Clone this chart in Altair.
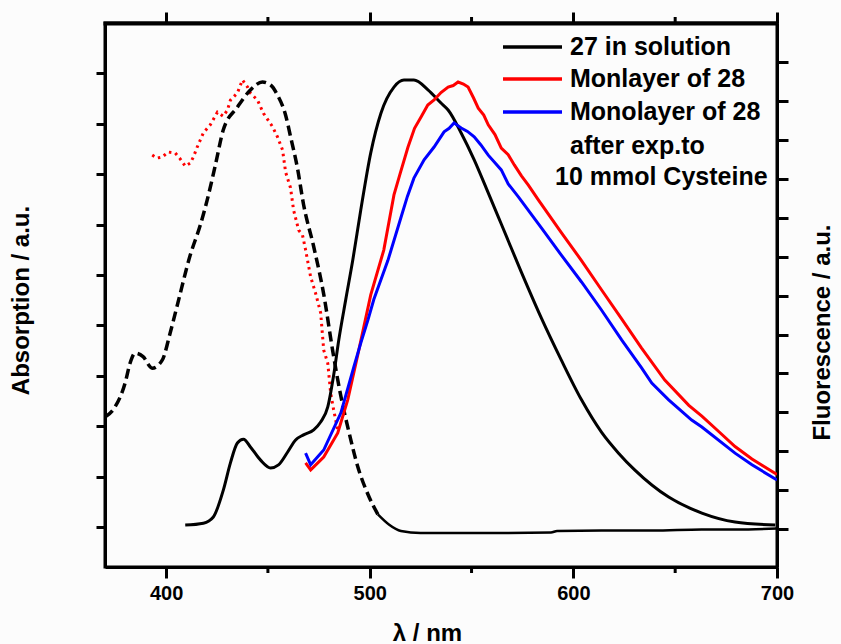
import altair as alt
import pandas as pd

# ---------------- data ----------------
x_major = [400, 500, 600, 700]
x_minor = [450, 550, 650]
abs_ticks = [0.0, 0.1, 0.2, 0.3, 0.4, 0.5, 0.6, 0.7, 0.8, 0.9]
fl_ticks = [0, 100, 200, 300, 400, 500, 600, 700, 800, 900, 1000, 1100, 1200]

# absorption of 27 in solution (dashed part)
abs27_nm = [370.0, 374.9, 379.9, 382.3, 384.8, 388.7, 393.2, 398.1, 402.0, 405.5,
            411.9, 416.8, 420.2, 424.2, 428.1, 435.0, 441.4, 447.3, 451.3, 454.7,
            458.7, 461.1, 464.6, 467.5, 472.5, 477.4, 481.8, 485.8, 489.7, 494.1,
            499.1, 504.0]
abs27_val = [0.218, 0.238, 0.286, 0.325, 0.345, 0.338, 0.315, 0.331, 0.385, 0.440,
             0.540, 0.599, 0.649, 0.718, 0.788, 0.833, 0.867, 0.883, 0.877, 0.857,
             0.817, 0.775, 0.710, 0.640, 0.556, 0.462, 0.350, 0.260, 0.190, 0.120,
             0.065, 0.025]
# absorption of 27, flat tail (solid)
abs27_tail_nm = [504.0, 509.4, 515.3, 525.0, 540.0, 565.0, 589.0, 592.0, 614.0, 639.0,
                 663.0, 680.0, 700.0]
abs27_tail_val = [0.025, 0.005, -0.008, -0.012, -0.012, -0.012, -0.011, -0.008, -0.007,
                  -0.007, -0.005, -0.005, -0.003]
# absorption of monolayer 28 (red dotted)
abs28_nm = [393.2, 395.5, 398.1, 401.0, 404.5, 407.0, 409.4, 411.9, 413.5, 415.3,
            418.3, 421.7, 425.2, 428.0, 430.1, 431.6, 435.0, 437.5, 440.0, 441.4,
            444.9, 447.8, 452.3, 454.7, 457.2, 458.7, 461.1, 462.6, 465.1, 467.0,
            468.5, 471.0, 473.4, 475.9, 477.4, 479.4, 480.8, 482.3, 484.3]
abs28_val = [0.738, 0.732, 0.734, 0.744, 0.742, 0.730, 0.716, 0.722, 0.735, 0.754,
             0.782, 0.798, 0.823, 0.815, 0.827, 0.847, 0.861, 0.887, 0.873, 0.861,
             0.847, 0.821, 0.794, 0.774, 0.748, 0.704, 0.673, 0.629, 0.589, 0.579,
             0.550, 0.496, 0.464, 0.425, 0.351, 0.325, 0.266, 0.232, 0.192]

# fluorescence: 27 in solution (black)
fl27_nm = [409.4, 418.3, 423.2, 428.1, 431.6, 435.0, 438.0, 441.4, 446.4, 451.3,
           455.2, 459.7, 463.6, 467.5, 472.5, 475.9, 479.4, 482.3, 484.8, 488.2,
           491.7, 495.6, 500.5, 505.5, 511.9, 516.8, 521.7, 528.6, 535.0, 538.5,
           544.9, 551.3, 558.2, 564.6, 574.4, 584.3, 594.1, 604.0, 613.8, 622.2,
           630.1, 646.8, 663.1, 679.4, 699.1]
fl27_val = [10, 15, 31, 100, 170, 221, 231, 211, 177, 157,
            165, 198, 229, 242, 255, 275, 314, 396, 486, 589,
            692, 820, 967, 1069, 1136, 1154, 1154, 1129, 1095, 1077,
            1018, 949, 864, 784, 661, 542, 434, 332, 249, 195,
            152, 82, 41, 18, 10]
# fluorescence: monolayer of 28 (red)
fl28_nm = [468.5, 471.0, 477.4, 484.3, 489.2, 494.1, 500.5, 506.9, 511.9, 515.0,
           518.8, 522.0, 525.2, 528.5, 531.6, 535.0, 538.5, 541.0, 543.4, 546.0,
           548.3, 551.0, 553.3, 556.0, 558.2, 561.5, 564.6, 568.0, 571.0, 574.5,
           577.9, 582.8, 594.1, 604.0, 613.8, 623.7, 633.5, 644.9, 656.7, 663.1,
           671.5, 679.4, 687.7, 700.0]
fl28_val = [170, 152, 185, 247, 332, 447, 602, 717, 859, 915,
            982, 1030, 1059, 1090, 1103, 1122, 1136, 1140, 1149, 1144,
            1136, 1108, 1082, 1064, 1039, 1014, 979, 962, 936, 908,
            884, 846, 762, 690, 615, 540, 465, 383, 318, 290,
            250, 212, 180, 140]
# fluorescence: monolayer of 28 after exposure to cysteine (blue)
fl28c_nm = [468.5, 471.0, 477.4, 485.8, 492.2, 495.6, 499.1, 502.0, 508.9, 515.3,
            518.5, 521.7, 526.7, 531.6, 536.5, 539.0, 541.4, 544.9, 548.0, 551.3,
            554.5, 558.2, 564.6, 568.0, 573.0, 584.3, 594.1, 604.0, 613.8, 623.7,
            633.5, 638.5, 646.8, 658.1, 663.1, 679.4, 687.7, 700.0]
fl28c_val = [195, 165, 203, 298, 417, 478, 537, 590, 690, 800,
             855, 902, 949, 982, 1021, 1030, 1044, 1031, 1022, 1008,
             988, 961, 923, 887, 854, 774, 704, 635, 563, 486,
             414, 375, 332, 280, 262, 195, 165, 126]

legend_labels = ["27 in solution", "Monlayer of 28", "Monolayer of 28"]
legend_colors = ["#000000", "#ff0000", "#0000ff"]
legend_extra = ["after exp.to", "10 mmol Cysteine"]

# ---------------- styling ----------------
FONT = "Liberation Sans"
W, H = 672, 544

x_scale = alt.Scale(domain=[370, 700], nice=False, zero=False)

common_axis = dict(domain=True, domainColor="black", domainWidth=3,
                   tickColor="black", tickWidth=3,
                   grid=False, labelFont=FONT, titleFont=FONT, titleColor="black",
                   titleFontWeight="bold", titleFontSize=24)

x_bottom = alt.X("nm:Q", scale=x_scale, axis=alt.Axis(
    orient="bottom", values=x_major, tickSize=11,
    labelFontSize=20, labelFontWeight="bold", labelColor="black", labelPadding=5,
    labelFlush=False, title="λ / nm", titleX=322, titleY=54, **common_axis))
x_top = alt.X("nm:Q", scale=x_scale, axis=alt.Axis(
    orient="top", values=x_major, labels=False, tickSize=11,
    title="", **common_axis))

y_abs = alt.Y("v:Q", scale=alt.Scale(domain=[-0.0794, 1.0], nice=False, zero=False),
              axis=alt.Axis(orient="left", values=abs_ticks, labels=False, tickSize=9,
                            title="Absorption / a.u.", titleX=-72, titleY=277,
                            titleAngle=270, titleBaseline="bottom", **common_axis))
y_fl = alt.Y("v:Q", scale=alt.Scale(domain=[-97.7, 1300.8], nice=False, zero=False),
             axis=alt.Axis(orient="right", values=fl_ticks, labels=False, tickSize=11,
                           title="Fluorescence  / a.u.", titleX=57, titleY=309,
                           titleAngle=270, titleBaseline="bottom", **common_axis))


def df(nm, val):
    return pd.DataFrame({"nm": nm, "v": val})


minor_df = pd.DataFrame({"nm": x_minor})

abs_group = alt.layer(
    alt.Chart(df(abs28_nm, abs28_val)).mark_line(
        color="#ff0000", strokeWidth=3, strokeDash=[2.5, 4], interpolate="linear", clip=True
    ).encode(x=x_bottom, y=y_abs),
    alt.Chart(df(abs27_nm, abs27_val)).mark_line(
        color="black", strokeWidth=3.5, strokeDash=[10, 5], interpolate="monotone", clip=True
    ).encode(x=x_bottom, y=y_abs),
    alt.Chart(df(abs27_tail_nm, abs27_tail_val)).mark_line(
        color="black", strokeWidth=2.5, interpolate="monotone", clip=True
    ).encode(x=x_bottom, y=y_abs),
    # minor ticks on the bottom edge
    alt.Chart(minor_df).mark_rule(color="black", strokeWidth=3).encode(
        x=x_bottom, y=alt.value(H), y2=alt.value(H + 6)),
)

fl_group = alt.layer(
    alt.Chart(df(fl27_nm, fl27_val)).mark_line(
        color="black", strokeWidth=3, interpolate="monotone", clip=True
    ).encode(x=x_top, y=y_fl),
    alt.Chart(df(fl28_nm, fl28_val)).mark_line(
        color="#ff0000", strokeWidth=3, interpolate="linear", clip=True
    ).encode(x=x_top, y=y_fl),
    alt.Chart(df(fl28c_nm, fl28c_val)).mark_line(
        color="#0000ff", strokeWidth=3, interpolate="linear", clip=True
    ).encode(x=x_top, y=y_fl),
    # minor ticks on the top edge
    alt.Chart(minor_df).mark_rule(color="black", strokeWidth=3).encode(
        x=x_top, y=alt.value(-6), y2=alt.value(0)),
)

one = pd.DataFrame({"k": [0]})
# top edge of the frame
frame_top = alt.Chart(one).mark_rule(color="black", strokeWidth=4).encode(
    x=alt.value(-1.5), x2=alt.value(W + 1.5), y=alt.value(0.5))

legend_layers = []
line_y = [24, 56, 89]
for lab, col, yy in zip(legend_labels, legend_colors, line_y):
    legend_layers.append(
        alt.Chart(one).mark_rule(color=col, strokeWidth=3.5).encode(
            x=alt.value(398), x2=alt.value(457), y=alt.value(yy)))
    legend_layers.append(
        alt.Chart(one).mark_text(text=lab, align="left", baseline="middle", font=FONT,
                                 fontSize=25, fontWeight="bold", color="black").encode(
            x=alt.value(465), y=alt.value(yy)))
for lab, xx, yy in zip(legend_extra, [465, 450], [123, 154]):
    legend_layers.append(
        alt.Chart(one).mark_text(text=lab, align="left", baseline="middle", font=FONT,
                                 fontSize=25, fontWeight="bold", color="black").encode(
            x=alt.value(xx), y=alt.value(yy)))

chart = alt.layer(abs_group, fl_group, frame_top, *legend_layers).resolve_scale(
    y="independent"
).resolve_axis(
    x="independent", y="independent"
).properties(
    width=W, height=H,
    autosize=alt.AutoSizeParams(type="none"),
    padding={"left": 105, "top": 23, "right": 64, "bottom": 77},
    background="#fcfcfc",
).configure_view(stroke="black", strokeWidth=3)

chart.save("out.html", embed_options={"renderer": "svg", "actions": False})
